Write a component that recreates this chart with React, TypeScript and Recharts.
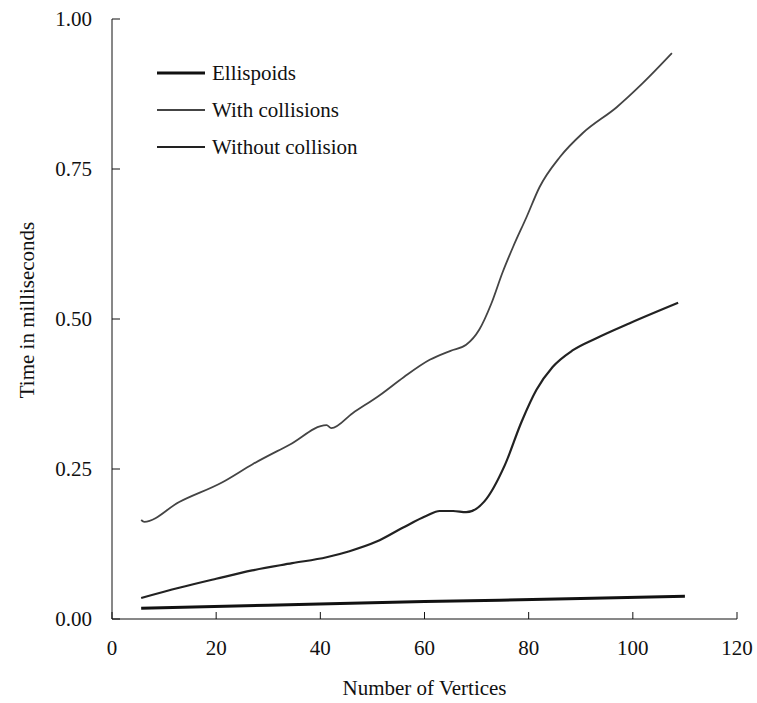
import React from 'react';
import { LineChart, Line, XAxis, YAxis, Legend, Label } from 'recharts';

const xTicks = [0, 20, 40, 60, 80, 100, 120];
const yTicks = [0, 0.25, 0.5, 0.75, 1];
const seriesNames = ['Ellispoids', 'With collisions', 'Without collision'];

const ellipsoidX = [5.6, 30, 60, 90, 110];
const ellipsoidY = [0.018, 0.023, 0.029, 0.034, 0.038];

const withCollisionX = [5.6, 6.2, 12.9, 21.2, 27, 34, 41.2, 42.1, 46.2, 51.4, 56, 61, 65, 68, 70.5, 72.8, 75, 77, 79.6, 82.1, 86, 90.4, 96.9, 101.9, 107.5];
const withCollisionY = [0.165, 0.162, 0.195, 0.228, 0.258, 0.29, 0.323, 0.318, 0.343, 0.373, 0.403, 0.432, 0.447, 0.457, 0.482, 0.525, 0.578, 0.62, 0.67, 0.72, 0.77, 0.81, 0.853, 0.893, 0.943];

const withoutCollisionX = [5.6, 12.9, 20, 26.9, 34.6, 41.2, 45.6, 50.8, 55.8, 60.4, 62.9, 65.5, 68, 71.5, 75.4, 78.6, 81.5, 84.6, 88.5, 93, 99.4, 108.7];
const withoutCollisionY = [0.035, 0.052, 0.067, 0.081, 0.093, 0.103, 0.113, 0.129, 0.152, 0.172, 0.18, 0.18, 0.178, 0.196, 0.256, 0.328, 0.382, 0.42, 0.448, 0.468, 0.493, 0.527];

const toPoints = (xs: number[], ys: number[]) => xs.map((x, i) => ({ x, y: ys[i] }));

const ellipsoidData = toPoints(ellipsoidX, ellipsoidY);
const withData = toPoints(withCollisionX, withCollisionY);
const withoutData = toPoints(withoutCollisionX, withoutCollisionY);

const FONT = '"Liberation Serif", "Times New Roman", serif';
const INK = '#111';

const seriesStyles = [
  { stroke: '#111', width: 3 },
  { stroke: '#444', width: 1.8 },
  { stroke: '#222', width: 2.2 },
];

const LegendContent = () => (
  <div style={{ fontFamily: FONT, fontSize: 21, color: INK }}>
    {seriesNames.map((name, i) => (
      <div key={name} style={{ display: 'flex', alignItems: 'center', height: 37, lineHeight: '37px' }}>
        <svg width={48} height={37} style={{ display: 'block' }}>
          <line x1={0} x2={48} y1={18} y2={18} stroke={seriesStyles[i].stroke} strokeWidth={seriesStyles[i].width} />
        </svg>
        <span style={{ marginLeft: 7, whiteSpace: 'nowrap' }}>{name}</span>
      </div>
    ))}
  </div>
);

const YTitle = (props: any) => {
  const vb = props.viewBox || { x: 0, y: 19, width: 112, height: 600 };
  const cx = vb.x + 27;
  const cy = vb.y + vb.height / 2 - 9;
  return (
    <text
      x={cx}
      y={cy}
      transform={`rotate(-90 ${cx} ${cy})`}
      textAnchor="middle"
      dominantBaseline="central"
      fontFamily={FONT}
      fontSize={21}
      fill={INK}
    >
      Time in milliseconds
    </text>
  );
};

export default function App() {
  return (
    <div style={{ position: 'absolute', left: 0, top: 0, width: 757, height: 703, background: '#fff' }}>
      <LineChart width={757} height={703} margin={{ top: 19, right: 20, bottom: 0, left: 0 }}>
        <XAxis
          type="number"
          dataKey="x"
          domain={[0, 120]}
          ticks={xTicks}
          height={84}
          tickSize={-7}
          tickMargin={28}
          stroke={INK}
          tick={{ fill: INK, fontSize: 21, fontFamily: FONT }}
          allowDataOverflow
        >
          <Label value="Number of Vertices" position="insideBottom" offset={8} fill={INK} style={{ fontSize: 21, fontFamily: FONT, fill: INK }} />
        </XAxis>
        <YAxis
          type="number"
          dataKey="y"
          domain={[0, 1]}
          ticks={yTicks}
          width={112}
          tickSize={-8}
          tickMargin={28}
          stroke={INK}
          tickFormatter={(v: number) => v.toFixed(2)}
          tick={{ fill: INK, fontSize: 21, fontFamily: FONT }}
          allowDataOverflow
        >
          <Label content={YTitle} />
        </YAxis>
        <Legend
          layout="vertical"
          align="center"
          verticalAlign="middle"
          content={LegendContent}
          wrapperStyle={{ left: 157, top: 55, width: 260, height: 111 }}
        />
        <Line data={ellipsoidData} dataKey="y" name={seriesNames[0]} type="monotone" stroke={seriesStyles[0].stroke} strokeWidth={seriesStyles[0].width} dot={false} isAnimationActive={false} />
        <Line data={withData} dataKey="y" name={seriesNames[1]} type="monotone" stroke={seriesStyles[1].stroke} strokeWidth={seriesStyles[1].width} dot={false} isAnimationActive={false} />
        <Line data={withoutData} dataKey="y" name={seriesNames[2]} type="monotone" stroke={seriesStyles[2].stroke} strokeWidth={seriesStyles[2].width} dot={false} isAnimationActive={false} />
      </LineChart>
    </div>
  );
}
